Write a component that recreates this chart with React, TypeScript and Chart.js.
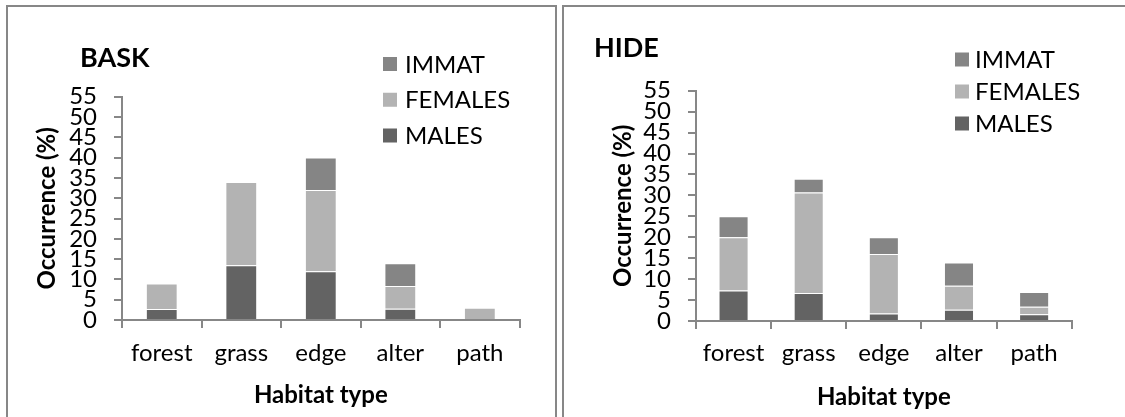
import React, { useEffect, useRef } from 'react';
import { Chart, registerables } from 'chart.js';

Chart.register(...registerables);

// ---------- data ----------
const categories = ['forest', 'grass', 'edge', 'alter', 'path'];
const seriesNames = ['MALES', 'FEMALES', 'IMMAT'];

const baskMales = [2.7, 13.5, 12, 2.8, 0];
const baskFemales = [6.3, 20.5, 20, 5.6, 3];
const baskImmat = [0, 0, 8, 5.6, 0];

const hideMales = [7.3, 6.7, 1.8, 2.7, 1.6];
const hideFemales = [12.7, 24, 14.2, 5.7, 1.8];
const hideImmat = [5, 3.3, 4, 5.6, 3.5];

const yMin = 0;
const yMax = 55;
const yStep = 5;
const yTitle = 'Occurrence (%)';
const xTitle = 'Habitat type';

// ---------- styles ----------
const FONT = 'Lato, "Liberation Sans", sans-serif';
const COLORS = ['#636363', '#b3b3b3', '#858585'];
const AXIS = '#878787';

const panels = [
  {
    key: 'bask',
    title: 'BASK',
    series: [baskMales, baskFemales, baskImmat],
    box: { left: 6, top: 5, width: 551 },
    canvas: { left: 8, top: 7, width: 546, height: 410 },
    pad: { top: 89.7, right: 34.4 },
    yWidth: 114,
    xHeight: 97,
    yTitlePad: 24.6,
    xTitlePadBottom: 7.6,
    xTickPad: 11,
    titlePos: { x: 72, y: 59.7 },
    legend: { x: 375, textX: 397, y: 57, gap: 35.75 },
  },
  {
    key: 'hide',
    title: 'HIDE',
    series: [hideMales, hideFemales, hideImmat],
    box: { left: 562, top: 5, width: 600 },
    canvas: { left: 564, top: 7, width: 561, height: 410 },
    pad: { top: 83.7, right: 53.3 },
    yWidth: 132,
    xHeight: 96,
    yTitlePad: 44.6,
    xTitlePadBottom: 5.6,
    xTickPad: 10,
    titlePos: { x: 30, y: 49.7 },
    legend: { x: 391, textX: 411, y: 52.5, gap: 32 },
  },
];

const decorPlugin = {
  id: 'decor',
  afterDraw(chart: any, _args: any, opts: any) {
    const ctx = chart.ctx;
    ctx.save();
    ctx.fillStyle = '#000';
    ctx.textAlign = 'left';
    ctx.textBaseline = 'alphabetic';
    ctx.font = `bold 27px ${FONT}`;
    ctx.fillText(opts.title, opts.titleX, opts.titleY);
    const box = 14;
    const ds = chart.data.datasets.slice().reverse();
    ds.forEach((d: any, i: number) => {
      const cy = opts.legendY + i * opts.legendGap;
      ctx.fillStyle = d.backgroundColor;
      ctx.fillRect(opts.legendX, cy - box / 2, box, box);
      ctx.fillStyle = '#000';
      ctx.font = `24px ${FONT}`;
      ctx.textBaseline = 'middle';
      ctx.fillText(d.label, opts.legendTextX, cy + 1);
    });
    ctx.restore();
  },
};

function Panel({ cfg }: { cfg: any }) {
  const ref = useRef<HTMLCanvasElement | null>(null);
  useEffect(() => {
    if (!ref.current) return;
    const chart = new Chart(ref.current, {
      type: 'bar',
      data: {
        labels: categories,
        datasets: cfg.series.map((vals: number[], i: number) => ({
          label: seriesNames[i],
          data: vals,
          backgroundColor: COLORS[i],
          borderColor: 'rgba(255,255,255,0.55)',
          borderWidth: (c: any) => (c.raw ? 1 : 0),
          barPercentage: 0.4,
          categoryPercentage: 1,
        })),
      },
      options: {
        animation: false,
        responsive: false,
        devicePixelRatio: 1,
        layout: { padding: { top: cfg.pad.top, right: cfg.pad.right, left: 0, bottom: 0 } },
        plugins: {
          legend: { display: false },
          tooltip: { enabled: false },
          title: { display: false },
          decor: {
            title: cfg.title,
            titleX: cfg.titlePos.x,
            titleY: cfg.titlePos.y,
            legendX: cfg.legend.x,
            legendTextX: cfg.legend.textX,
            legendY: cfg.legend.y,
            legendGap: cfg.legend.gap,
          },
        } as any,
        scales: {
          x: {
            stacked: true,
            grid: {
              display: true,
              drawOnChartArea: false,
              drawTicks: true,
              tickLength: 8,
              color: AXIS,
              lineWidth: 2,
              offset: true,
            },
            border: { display: true, color: AXIS, width: 2 },
            ticks: {
              color: '#000',
              font: { family: FONT, size: 24 },
              padding: cfg.xTickPad,
              maxRotation: 0,
              autoSkip: false,
            },
            title: {
              display: true,
              text: xTitle,
              color: '#000',
              font: { family: FONT, size: 24, weight: 'bold' },
              padding: { top: 0, bottom: cfg.xTitlePadBottom },
            },
            afterFit: (s: any) => {
              s.height = cfg.xHeight;
            },
          },
          y: {
            stacked: true,
            min: yMin,
            max: yMax,
            grid: {
              display: true,
              drawOnChartArea: false,
              drawTicks: true,
              tickLength: 8,
              color: AXIS,
              lineWidth: 2,
            },
            border: { display: true, color: AXIS, width: 2 },
            ticks: {
              stepSize: yStep,
              color: '#000',
              font: { family: FONT, size: 24 },
              padding: 17,
              autoSkip: false,
            },
            title: {
              display: true,
              text: yTitle,
              color: '#000',
              font: { family: FONT, size: 24, weight: 'bold' },
              padding: { top: cfg.yTitlePad, bottom: 0 },
            },
            afterFit: (s: any) => {
              s.width = cfg.yWidth;
            },
          },
        },
      } as any,
      plugins: [decorPlugin as any],
    });
    return () => chart.destroy();
  }, [cfg]);

  return (
    <>
      <div
        style={{
          position: 'absolute',
          left: cfg.box.left,
          top: cfg.box.top,
          width: cfg.box.width,
          height: 440,
          border: `2px solid ${AXIS}`,
          boxSizing: 'border-box',
        }}
      />
      <canvas
        ref={ref}
        width={cfg.canvas.width}
        height={cfg.canvas.height}
        style={{
          position: 'absolute',
          left: cfg.canvas.left,
          top: cfg.canvas.top,
          width: cfg.canvas.width,
          height: cfg.canvas.height,
        }}
      />
    </>
  );
}

export default function App() {
  return (
    <div
      style={{
        position: 'absolute',
        left: 0,
        top: 0,
        width: 1125,
        height: 417,
        overflow: 'hidden',
        background: '#fff',
      }}
    >
      {panels.map((p) => (
        <Panel key={p.key} cfg={p} />
      ))}
    </div>
  );
}
